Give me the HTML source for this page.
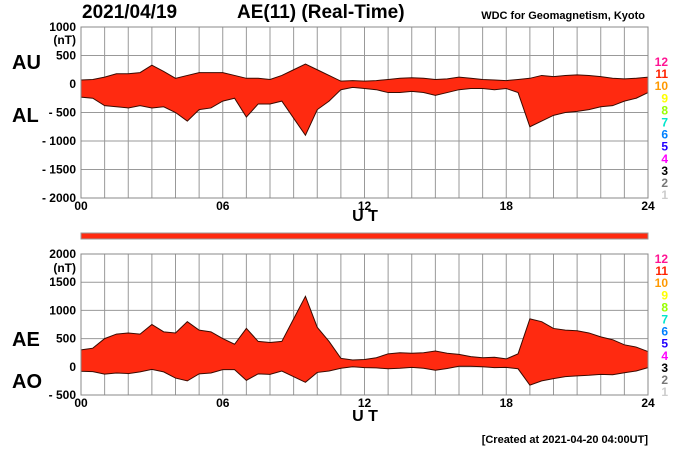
<!DOCTYPE html>
<html><head><meta charset="utf-8"><style>
body{margin:0;background:#fff;width:700px;height:450px;overflow:hidden;font-family:"Liberation Sans",sans-serif}
</style></head><body>
<svg id="c" width="700" height="450" xmlns="http://www.w3.org/2000/svg" font-family="Liberation Sans, sans-serif"></svg>
<script>
const hours=[0,0.5,1,1.5,2,2.5,3,3.5,4,4.5,5,5.5,6,6.5,7,7.5,8,8.5,9,9.5,10,10.5,11,11.5,12,12.5,13,13.5,14,14.5,15,15.5,16,16.5,17,17.5,18,18.5,19,19.5,20,20.5,21,21.5,22,22.5,23,23.5,24];
const auValues=[70,80,120,180,180,200,330,220,100,150,200,200,200,150,100,100,80,150,250,350,250,150,50,60,50,60,80,100,110,100,80,90,120,100,80,70,60,80,100,150,130,150,160,150,130,100,90,100,120];
const alValues=[-230,-250,-380,-400,-420,-380,-420,-400,-500,-650,-450,-420,-300,-250,-580,-350,-350,-300,-600,-900,-450,-300,-100,-60,-80,-100,-150,-150,-130,-150,-200,-150,-100,-80,-80,-100,-80,-150,-750,-650,-550,-500,-480,-450,-400,-380,-300,-250,-150];
const topTicks=[1000,500,0,-500,-1000,-1500,-2000];
const topTickLabels=["1000","500","0","- 500","- 1000","- 1500","- 2000"];
const botTicks=[2000,1500,1000,500,0,-500];
const botTickLabels=["2000","1500","1000","500","0","- 500"];
const xTickHours=[0,6,12,18,24];
const xTickLabels=["00","06","12","18","24"];
const legendNums=["12","11","10","9","8","7","6","5","4","3","2","1"];
const legendColors=["#ff1493","#ff2200","#ff9900","#ffff00","#99ff00","#00e5cc","#0080ff","#2200ff","#ff00ff","#000","#777","#ccc"];

const svg=document.getElementById('c');const NS="http://www.w3.org/2000/svg";
function mk(t,a,txt,p){const e=document.createElementNS(NS,t);for(const k in a)e.setAttribute(k,a[k]);if(txt!=null)e.textContent=txt;(p||svg).appendChild(e);return e;}
const X0=81,X1=648;const x=h=>X0+(X1-X0)*h/24;
const yTop=v=>27+(1000-v)*171/3000;
const yBot=v=>254+(2000-v)*141/2500;

function panel(name,ymap,ticks,labels,yT,yB,upper,lower,unitY,utY){
  const g=mk('g',{});
  for(let h=0;h<=24;h++){mk('line',{x1:x(h),x2:x(h),y1:yT,y2:yB,stroke:'#999','stroke-width':1},null,g);}
  ticks.forEach((v,i)=>{mk('line',{x1:X0,x2:X1,y1:ymap(v),y2:ymap(v),stroke:'#999','stroke-width':1},null,g);
    const t=mk('text',{x:76,y:ymap(v)+4,'text-anchor':'end','font-size':12,'font-weight':'bold'},labels[i],g);
    });
  mk('text',{x:76,y:unitY,'text-anchor':'end','font-size':12,'font-weight':'bold'},'(nT)',g);
  let d='M'+hours.map((h,i)=>x(h)+','+ymap(upper[i])).join('L');
  for(let i=hours.length-1;i>=0;i--)d+='L'+x(hours[i])+','+ymap(lower[i]);
  const p=mk('path',{d:d+'Z',fill:'#ff2a10',stroke:'#3a0a00','stroke-width':1},null,g);
  
  mk('rect',{x:X0,y:yT,width:X1-X0,height:yB-yT,fill:'none',stroke:'#888'},null,g);
  xTickHours.forEach((h,i)=>{const t=mk('text',{x:x(h),y:yB+12,'text-anchor':'middle','font-size':12,'font-weight':'bold'},xTickLabels[i],g);
    });
  const u=mk('text',{x:365,y:utY,'text-anchor':'middle','font-size':16,'font-weight':'bold'},'U T',g);
  
}
panel('au-al-panel',yTop,topTicks,topTickLabels,27,198,auValues,alValues,44,221);
const aeValues=auValues.map((u,i)=>u-alValues[i]);
const aoValues=auValues.map((u,i)=>(u+alValues[i])/2);
panel('ae-ao-panel',yBot,botTicks,botTickLabels,254,395,aeValues,aoValues,272,421);

function legend(y0){legendNums.forEach((n,i)=>{const t=mk('text',{x:668,y:y0+i*12.1,'text-anchor':'end','font-size':12,'font-weight':'bold',fill:legendColors[i]},n);
  });}
legend(66);legend(263);

const strip=mk('rect',{x:X0,y:233,width:X1-X0,height:6,fill:'#ff2a10',stroke:'#999'});


[['2021/04/19',82,18,19,'start','title-date'],['AE(11) (Real-Time)',237,18,19,'start','title'],['WDC for Geomagnetism, Kyoto',645,19,11,'end','source-label'],
 ['AU',12,69,20,'start','au-label'],['AL',12,122,20,'start','al-label'],['AE',12,346,20,'start','ae-label'],['AO',12,388,20,'start','ao-label'],
 ['[Created at 2021-04-20 04:00UT]',648,443,11,'end','created-label']].forEach(a=>{
  const t=mk('text',{x:a[1],y:a[2],'font-size':a[3],'font-weight':'bold','text-anchor':a[4]},a[0]);
  });
</script>
</body></html>
